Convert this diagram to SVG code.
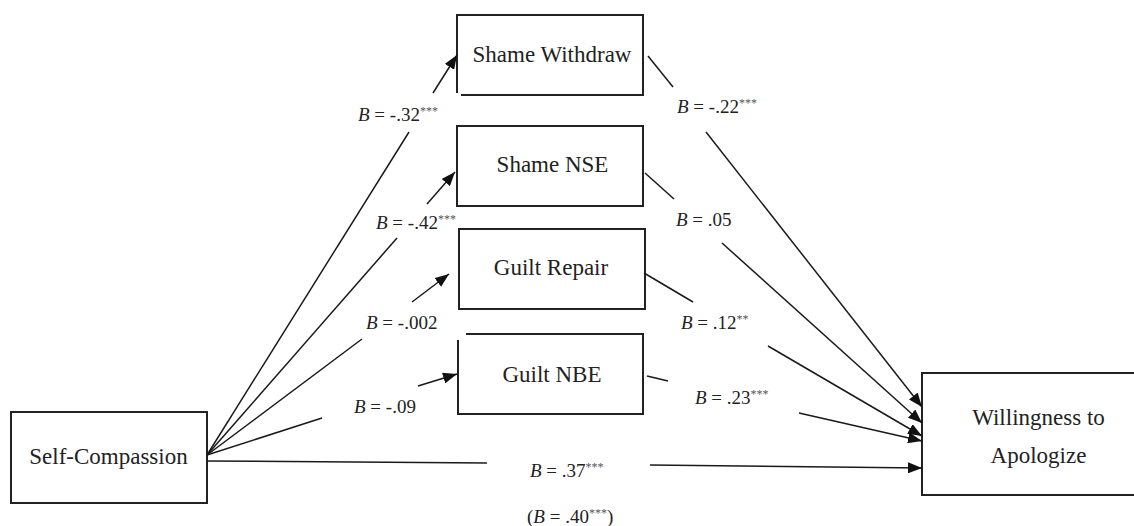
<svg xmlns="http://www.w3.org/2000/svg" width="1134" height="526" viewBox="0 0 1134 526">
<style>
.box{fill:none;stroke:#222;stroke-width:2}
.node{font-family:"Liberation Serif","Times New Roman",serif;font-size:23px;fill:#222;text-anchor:middle}
.lbl{font-family:"Liberation Serif","Times New Roman",serif;font-size:19px;fill:#222}
.it{font-style:italic}
.sup{font-size:12px;fill:#555}
.ln{fill:none;stroke:#1a1a1a;stroke-width:1.5}
.ar{marker-end:url(#ah)}
</style>
<defs>
<marker id="ah" markerUnits="userSpaceOnUse" markerWidth="15" markerHeight="11" refX="14" refY="5.5" orient="auto">
<path d="M0,0 L14,5.5 L0,11 z" fill="#111"/>
</marker>
</defs>
<rect width="1134" height="526" fill="#fff"/>

<g id="self-compassion">
<rect class="box" x="11" y="412" width="196" height="91"/>
<text class="node" x="108.5" y="464">Self-Compassion</text>
</g>

<g id="shame-withdraw">
<path class="box" d="M461,95 H643 V15 H457 V93"/>
<text class="node" x="552" y="62">Shame Withdraw</text>
</g>

<g id="shame-nse">
<rect class="box" x="457" y="126" width="186" height="80"/>
<text class="node" x="552.5" y="172">Shame NSE</text>
</g>

<g id="guilt-repair">
<rect class="box" x="459" y="229" width="186" height="80"/>
<text class="node" x="551" y="275">Guilt Repair</text>
</g>

<g id="guilt-nbe">
<path class="box" d="M466,334 H643 V414 H458 V340"/>
<text class="node" x="552" y="382">Guilt NBE</text>
</g>

<g id="willingness">
<rect class="box" x="922" y="373" width="230" height="122"/>
<text class="node" x="1038.5" y="425">Willingness to</text>
<text class="node" x="1038.5" y="463">Apologize</text>
</g>

<g id="connectors">
<line class="ln" x1="207" y1="455" x2="409" y2="132"/>
<line class="ln ar" x1="433" y1="93" x2="457" y2="55"/>
<line class="ln" x1="207" y1="455" x2="397" y2="238"/>
<line class="ln ar" x1="427" y1="204" x2="455" y2="172"/>
<line class="ln" x1="207" y1="455" x2="362" y2="339"/>
<line class="ln ar" x1="412" y1="302" x2="449" y2="274"/>
<line class="ln" x1="207" y1="455" x2="322" y2="418"/>
<line class="ln ar" x1="418" y1="386" x2="457" y2="374"/>
<line class="ln" x1="207" y1="461" x2="487" y2="463"/>
<line class="ln ar" x1="650" y1="465" x2="922" y2="468"/>

<line class="ln" x1="648" y1="56" x2="673" y2="87"/>
<line class="ln ar" x1="706" y1="132" x2="922" y2="407"/>
<line class="ln" x1="645" y1="173" x2="674" y2="199"/>
<line class="ln ar" x1="722" y1="243" x2="922" y2="423"/>
<line class="ln" x1="644" y1="273" x2="693" y2="302"/>
<line class="ln ar" x1="768" y1="346" x2="922" y2="436"/>
<line class="ln" x1="647" y1="376" x2="668" y2="381"/>
<line class="ln ar" x1="799" y1="413" x2="922" y2="441"/>
</g>

<g id="labels">
<text class="lbl" x="358" y="121"><tspan class="it">B</tspan> = -.32<tspan class="sup" dy="-6">***</tspan></text>
<text class="lbl" x="376" y="229"><tspan class="it">B</tspan> = -.42<tspan class="sup" dy="-6">***</tspan></text>
<text class="lbl" x="366" y="329"><tspan class="it">B</tspan> = -.002</text>
<text class="lbl" x="354" y="413"><tspan class="it">B</tspan> = -.09</text>
<text class="lbl" x="677" y="113"><tspan class="it">B</tspan> = -.22<tspan class="sup" dy="-6">***</tspan></text>
<text class="lbl" x="676" y="226"><tspan class="it">B</tspan> = .05</text>
<text class="lbl" x="681" y="329"><tspan class="it">B</tspan> = .12<tspan class="sup" dy="-6">**</tspan></text>
<text class="lbl" x="695" y="404"><tspan class="it">B</tspan> = .23<tspan class="sup" dy="-6">***</tspan></text>
<text class="lbl" x="530" y="477"><tspan class="it">B</tspan> = .37<tspan class="sup" dy="-6">***</tspan></text>
<text class="lbl" x="527" y="523">(<tspan class="it">B</tspan> = .40<tspan class="sup" dy="-6">***</tspan><tspan dy="6">)</tspan></text>
</g>
</svg>
